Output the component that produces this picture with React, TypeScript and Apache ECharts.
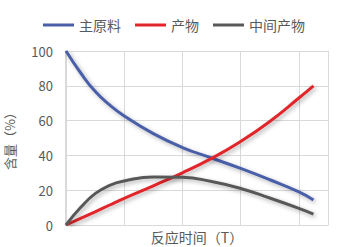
import React, { useEffect, useRef } from "react";
import * as echarts from "echarts";

const times = [0, 0.25, 0.5, 0.75, 1, 1.5, 2, 2.5, 3, 3.5, 4, 4.25];
const rawMaterial = [100, 87.5, 76.8, 69, 62.7, 52.5, 44.5, 38.5, 32.5, 26, 19, 14.4];
const product = [0, 3.8, 7.6, 11.5, 15.3, 22.5, 30, 38.3, 48, 59.5, 73, 80];
const intermediate = [0, 10, 18, 22.8, 25.3, 27.6, 27.4, 25, 21, 15.5, 9.6, 6.3];
const seriesNames = ["主原料", "产物", "中间产物"];
const yTicks = [0, 20, 40, 60, 80, 100];

const colors = ["#4a5fa8", "#e0262b", "#595959"];

export default function App() {
  const ref = useRef<HTMLDivElement>(null);
  useEffect(() => {
    if (!ref.current) return;
    const chart = echarts.init(ref.current, null, { renderer: "svg" });
    const font = "'Noto Sans CJK SC', 'Noto Sans', sans-serif";
    const datasets = [rawMaterial, product, intermediate];
    chart.setOption({
      animation: false,
      textStyle: { fontFamily: font },
      legend: {
        top: 13,
        left: 38,
        itemWidth: 31,
        itemHeight: 3,
        itemGap: 14,
        icon: "rect",
        textStyle: { fontSize: 14, color: "#595959", fontFamily: font },
        data: seriesNames,
      },
      grid: { left: 66, right: 27, top: 51, bottom: 22, containLabel: false, outerBoundsMode: "none" },
      xAxis: {
        type: "value",
        min: 0,
        max: 4.5,
        interval: 1,
        name: "反应时间（T）",
        nameLocation: "middle",
        nameGap: 5,
        nameTextStyle: { fontSize: 14, color: "#595959", fontFamily: font, verticalAlign: "top" },
        axisLabel: { show: false },
        axisTick: { show: false },
        axisLine: { show: true, lineStyle: { color: "#d9d9d9", width: 1 } },
        splitLine: { show: true, lineStyle: { color: "#d9d9d9", width: 1 } },
      },
      yAxis: {
        type: "value",
        min: yTicks[0],
        max: yTicks[yTicks.length - 1],
        interval: 20,
        name: "含量（%）",
        nameLocation: "middle",
        nameGap: 50,
        nameTextStyle: { fontSize: 13, color: "#595959", fontFamily: font },
        axisLabel: { fontSize: 13, color: "#595959", margin: 13, fontFamily: font },
        axisTick: { show: false },
        axisLine: { show: true, lineStyle: { color: "#d9d9d9", width: 2 } },
        splitLine: { show: true, lineStyle: { color: "#d9d9d9", width: 1 } },
      },
      series: seriesNames.map((name, i) => ({
        name,
        type: "line",
        smooth: 0.5,
        symbol: "none",
        color: colors[i],
        lineStyle: {
          width: 3,
          color: colors[i],
          shadowColor: "rgba(0,0,0,0.3)",
          shadowBlur: 4,
          shadowOffsetX: 2,
          shadowOffsetY: 2,
        },
        data: times.map((t, k) => [t, datasets[i][k]]),
      })),
    });
    return () => chart.dispose();
  }, []);
  return <div ref={ref} style={{ width: 355, height: 247, position: "absolute", left: 0, top: 0 }} />;
}
